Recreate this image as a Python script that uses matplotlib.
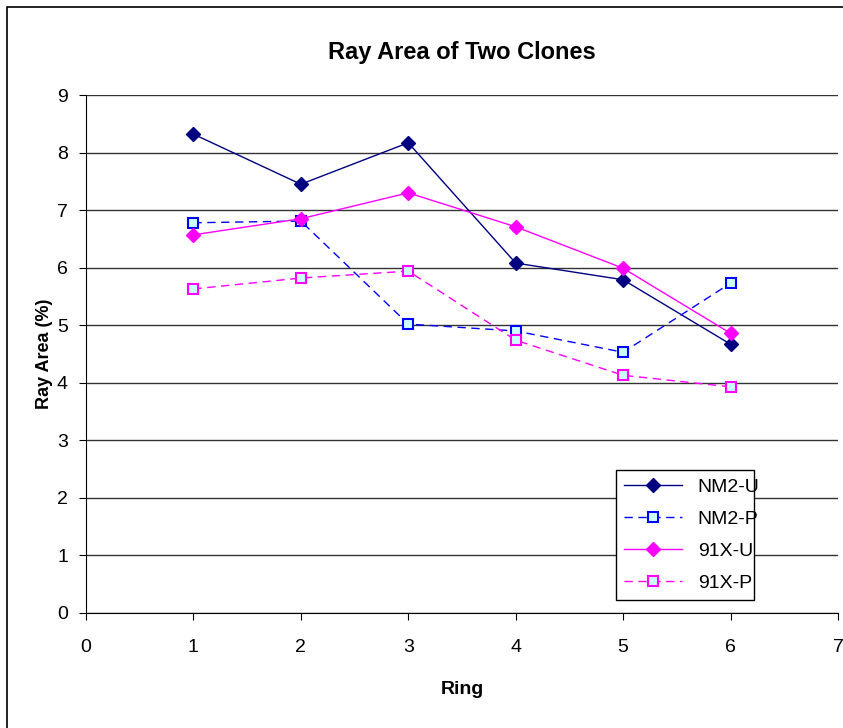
import matplotlib.pyplot as plt
from matplotlib.patches import Rectangle

plt.rcParams['font.family'] = ['Liberation Sans', 'DejaVu Sans']

rings = [1, 2, 3, 4, 5, 6]
nm2_u = [8.32, 7.45, 8.17, 6.08, 5.79, 4.67]
nm2_p = [6.78, 6.81, 5.02, 4.90, 4.53, 5.73]
x91_u = [6.57, 6.85, 7.30, 6.71, 5.99, 4.86]
x91_p = [5.63, 5.82, 5.94, 4.74, 4.13, 3.93]

fig = plt.figure(figsize=(8.43, 7.28), dpi=100)
ax = fig.add_axes([0.102, 0.158, 0.892, 0.7115])

# chart area frame
fig.patches.append(Rectangle((7 / 843, -0.1), 1.2, 1.1 - 8 / 728 + 0.001,
                             transform=fig.transFigure, fill=False,
                             edgecolor='black', linewidth=1.2))

ax.plot(rings, nm2_u, color='#000080', lw=1, marker='D', ms=7,
        mfc='#000080', mec='#000080', label='NM2-U')
ax.plot(rings, nm2_p, color='#0000FF', lw=1, ls=(0, (6, 4)), marker='s', ms=7,
        mfc='#CCFFFF', mec='#0000FF', mew=1.5, label='NM2-P')
ax.plot(rings, x91_u, color='#FF00FF', lw=1, marker='D', ms=7,
        mfc='#FF00FF', mec='#FF00FF', label='91X-U')
ax.plot(rings, x91_p, color='#FF00FF', lw=1, ls=(0, (6, 4)), marker='s', ms=7,
        mfc='#CCFFFF', mec='#FF00FF', mew=1.5, label='91X-P')

ax.set_xlim(0, 7)
ax.set_ylim(0, 9)
ax.set_xticks(range(0, 8))
ax.set_yticks(range(0, 10))
ax.yaxis.grid(True, color='#333333', lw=1)
ax.set_axisbelow(True)
for s in ('top', 'right'):
    ax.spines[s].set_visible(False)
ax.tick_params(axis='both', direction='out', length=5, labelsize=14)
ax.tick_params(axis='x', pad=14)
ax.tick_params(axis='y', pad=8)

ax.set_title('Ray Area of Two Clones', fontsize=17, fontweight='bold', pad=26)
ax.set_xlabel('Ring', fontsize=14, fontweight='bold', labelpad=18)
ax.set_ylabel('Ray Area (%)', fontsize=13, fontweight='bold', labelpad=3)

leg = ax.legend(loc='lower left', bbox_to_anchor=(0.705, 0.025, 0.183, 0.293),
                mode='expand', fancybox=False, shadow=False, framealpha=1,
                edgecolor='black', fontsize=14, handlelength=3,
                labelspacing=0.75, borderaxespad=0)
leg.get_frame().set_linewidth(1)

fig.savefig('out.png')
